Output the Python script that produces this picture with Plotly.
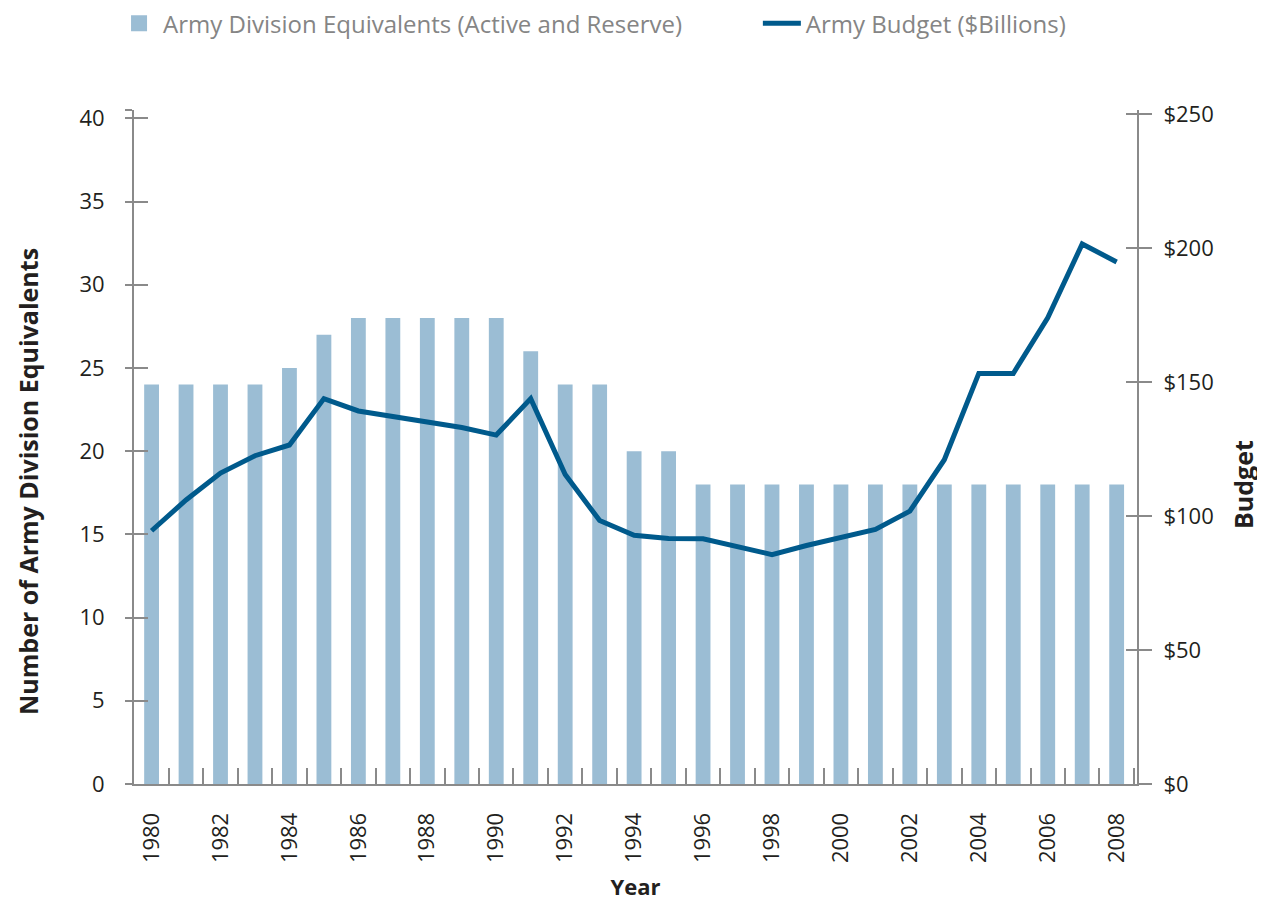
import plotly.graph_objects as go

years = list(range(1980, 2009))
divisions = [24, 24, 24, 24, 25, 27, 28, 28, 28, 28, 28, 26, 24, 24, 20, 20,
             18, 18, 18, 18, 18, 18, 18, 18, 18, 18, 18, 18, 18]
budget = [94.5, 106, 116, 122.5, 126.5, 143.8, 139.2, 137, 135, 133, 130.2, 143.8,
          115.5, 98.3, 92.8, 91.6, 91.5, 88.6, 85.6, 89, 92, 95, 101.8, 121,
          153.2, 153.2, 174, 201.5, 194.8]
year_ticks = years[::2]
left_ticks = [0, 5, 10, 15, 20, 25, 30, 35, 40]
right_ticks = [0, 50, 100, 150, 200, 250]

FONT = "Open Sans"
AX = "#8a8a8a"
TXT = "#231f20"
BAR = "#9bbdd4"
LINE = "#005a8c"

LEFT_MAX = 40.5
RIGHT_MAX = 251.5
XR = [1979.49, 2008.59]

fig = go.Figure()
fig.add_trace(go.Bar(x=years, y=divisions, name="Army Division Equivalents (Active and Reserve)",
                     marker=dict(color=BAR, line=dict(width=0)), width=0.43, yaxis="y",
                     showlegend=False, legendgroup="div"))
# legend entry for the bars (larger square swatch)
fig.add_trace(go.Scatter(x=[None], y=[None], mode="markers", name="Army Division Equivalents (Active and Reserve)",
                         marker=dict(symbol="square", color=BAR, size=18), legendgroup="div",
                         legend="legend"))
fig.add_trace(go.Scatter(x=years, y=budget, name="Army Budget ($Billions)", mode="lines",
                         line=dict(color=LINE, width=5), yaxis="y2", legend="legend2"))
# helper traces so the tick-only overlay axes render
fig.add_trace(go.Scatter(x=[None], y=[None], xaxis="x2", yaxis="y3", showlegend=False, hoverinfo="skip"))
fig.add_trace(go.Scatter(x=[None], y=[None], xaxis="x2", yaxis="y4", showlegend=False, hoverinfo="skip"))

boundaries = [y + 0.5 for y in years]

legend_common = dict(orientation="h", xanchor="left", y=1.128, yanchor="middle",
                     font=dict(family=FONT, size=24, color="#858585"),
                     itemwidth=38, bgcolor="rgba(0,0,0,0)", itemsizing="trace")

fig.update_layout(
    width=1257, height=893,
    margin=dict(l=126, r=128, t=102, b=117, autoexpand=False),
    plot_bgcolor="white", paper_bgcolor="white",
    font=dict(family=FONT, color=TXT, size=22),
    showlegend=True,
    legend=dict(x=-0.0189, **legend_common),
    legend2=dict(x=0.622, **legend_common),
    xaxis=dict(range=XR, tickmode="array", tickvals=year_ticks,
               ticktext=[str(y) for y in year_ticks], tickangle=-90,
               ticks="", showline=True, linecolor=AX, linewidth=2, showgrid=False,
               zeroline=False, tickfont=dict(size=22, color=TXT), ticklabelstandoff=18,
               title=dict(text="<b>Year</b>", font=dict(size=22, color=TXT), standoff=19)),
    xaxis2=dict(range=XR, overlaying="x", side="bottom", tickmode="array", tickvals=boundaries,
                ticks="inside", ticklen=16, tickwidth=1.5, tickcolor=AX, showticklabels=False,
                showline=False, showgrid=False, zeroline=False),
    yaxis=dict(range=[0, LEFT_MAX], tickmode="array", tickvals=left_ticks + [LEFT_MAX],
               ticktext=[str(v) for v in left_ticks] + [""],
               ticks="outside", ticklen=7, tickwidth=2, tickcolor=AX,
               showline=True, linecolor=AX, linewidth=2, showgrid=False, zeroline=False,
               tickfont=dict(size=22, color=TXT), ticklabelstandoff=16),
    yaxis2=dict(range=[0, RIGHT_MAX], overlaying="y", side="right", anchor="x",
                tickmode="array", tickvals=right_ticks, ticktext=["$" + str(v) for v in right_ticks],
                ticks="outside", ticklen=13, tickwidth=2, tickcolor=AX,
                showline=True, linecolor=AX, linewidth=2, showgrid=False, zeroline=False,
                tickfont=dict(size=22, color=TXT), ticklabelstandoff=7),
    yaxis3=dict(range=[0, LEFT_MAX], overlaying="y", side="left", anchor="x2",
                tickmode="array", tickvals=left_ticks + [LEFT_MAX], ticks="inside", ticklen=14,
                tickwidth=2, tickcolor=AX, showticklabels=False, showline=False,
                showgrid=False, zeroline=False),
    yaxis4=dict(range=[0, RIGHT_MAX], overlaying="y", side="right", anchor="x2",
                tickmode="array", tickvals=right_ticks, ticks="inside", ticklen=11,
                tickwidth=2, tickcolor=AX, showticklabels=False, showline=False,
                showgrid=False, zeroline=False),
    annotations=[
        dict(text="<b>Number of Army Division Equivalents</b>", textangle=-90,
             xref="paper", yref="paper", x=-0.1057, y=0.4496, xanchor="center", yanchor="middle",
             showarrow=False, font=dict(size=25, color=TXT, family=FONT)),
        dict(text="<b>Budget</b>", textangle=-90,
             xref="paper", yref="paper", x=1.1057, y=0.4436, xanchor="center", yanchor="middle",
             showarrow=False, font=dict(size=25, color=TXT, family=FONT)),
    ],
)

fig.write_html("out.html")
